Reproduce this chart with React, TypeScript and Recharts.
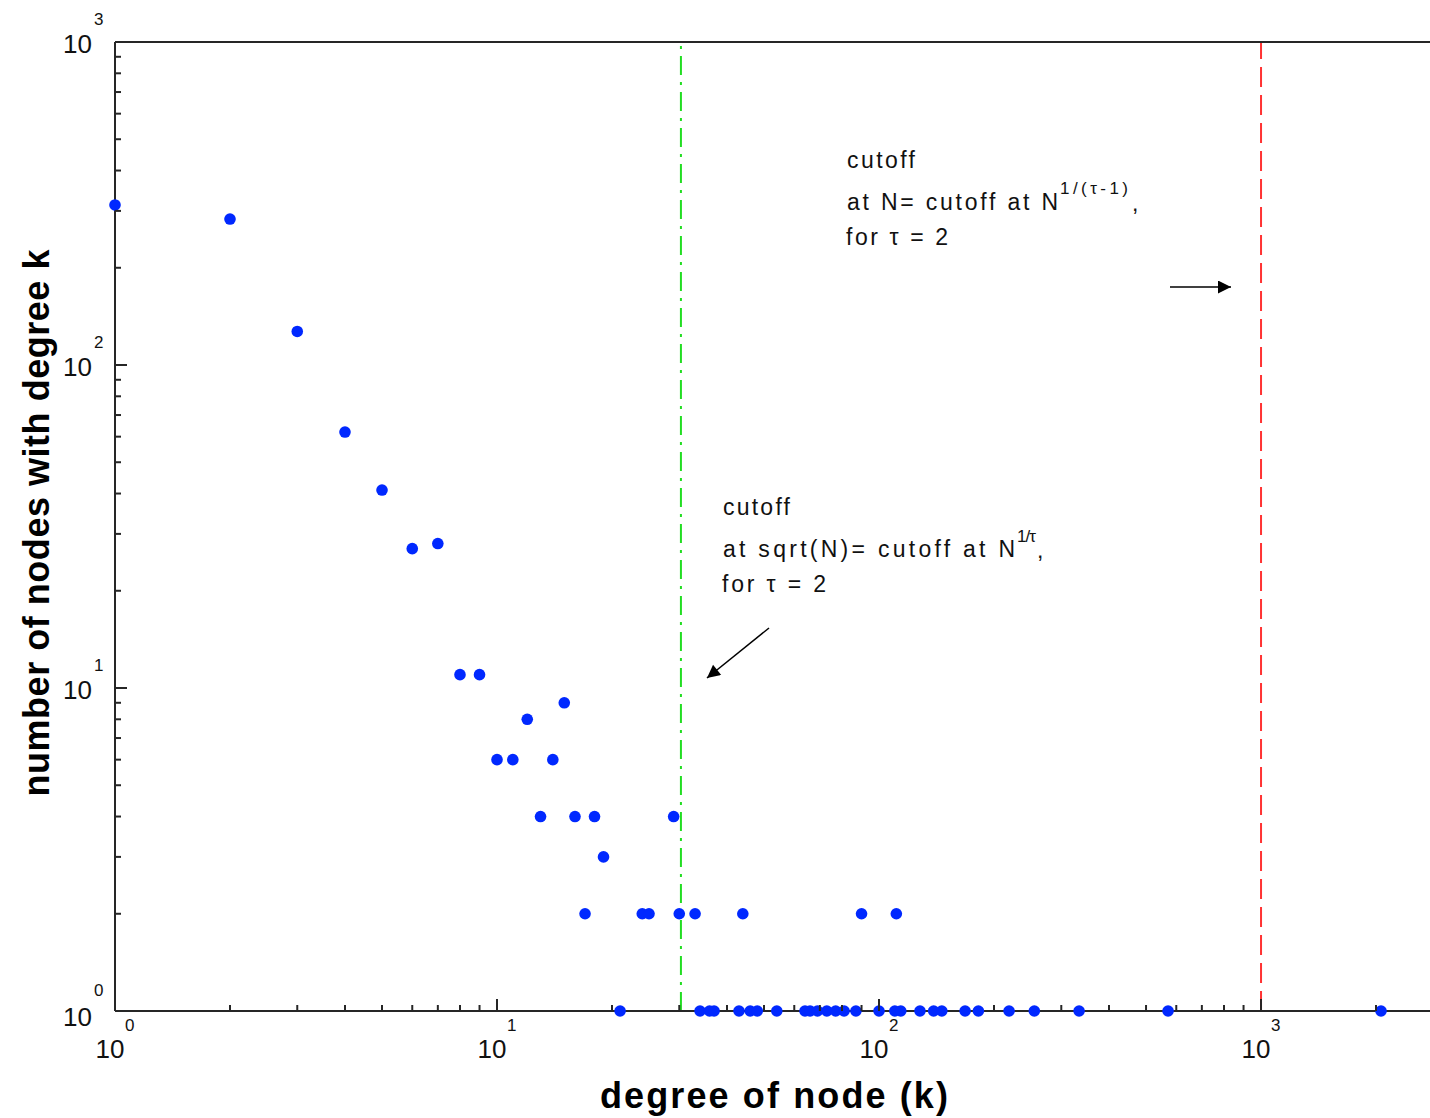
import React from 'react';
import { ScatterChart, Scatter, XAxis, YAxis, ReferenceLine } from 'recharts';

// degree k and number of nodes with that degree
const degrees = [
  1, 2, 3, 4, 5, 6, 7, 8, 9, 10, 11, 12, 13, 14, 15, 16, 17, 18, 19, 21,
  24, 25, 29, 30, 33, 34, 36, 37, 43, 44, 46, 48, 54, 64, 66, 69, 73, 77,
  81, 87, 90, 100, 110, 111, 114, 128, 139, 146, 168, 182, 219, 255, 334,
  571, 2061,
];
const counts = [
  313, 283, 127, 62, 41, 27, 28, 11, 11, 6, 6, 8, 4, 6, 9, 4, 2, 4, 3, 1,
  2, 2, 4, 2, 2, 1, 1, 1, 1, 2, 1, 1, 1, 1, 1, 1, 1, 1,
  1, 1, 2, 1, 1, 2, 1, 1, 1, 1, 1, 1, 1, 1, 1,
  1, 1,
];

const xTicks = [
  1, 2, 3, 4, 5, 6, 7, 8, 9,
  10, 20, 30, 40, 50, 60, 70, 80, 90,
  100, 200, 300, 400, 500, 600, 700, 800, 900,
  1000, 2000,
];
const yTicks = [
  1, 2, 3, 4, 5, 6, 7, 8, 9,
  10, 20, 30, 40, 50, 60, 70, 80, 90,
  100, 200, 300, 400, 500, 600, 700, 800, 900,
  1000,
];
const majorTicks = [1, 10, 100, 1000];

const xDomain = [1, 2769];
const yDomain = [1, 1000];

const sqrtCutoff = 30.3; // cutoff at sqrt(N)
const nCutoff = 1000; // cutoff at N

const points = degrees.map((k, i) => ({ k, n: counts[i] }));

const FONT = '"Liberation Sans", Arial, sans-serif';
const AXIS = '#262626';

const isMajor = (v: number) => majorTicks.includes(v);
const exponent = (v: number) => Math.round(Math.log10(v));

const BottomTick = (props: any) => {
  const { x, y, payload } = props;
  const v = payload.value;
  const major = isMajor(v);
  return (
    <g>
      <line x1={x} y1={y} x2={x} y2={y - (major ? 12 : 6)} stroke={AXIS} strokeWidth={2} />
      {major && (
        <>
          <text x={x - 5} y={y + 47} textAnchor="middle" fontSize={26} fontFamily={FONT} fill="#111">10</text>
          <text x={x + 10} y={y + 20} fontSize={17} fontFamily={FONT} fill="#111">{exponent(v)}</text>
        </>
      )}
    </g>
  );
};

const TopTick = (props: any) => {
  const { x, y, payload } = props;
  const major = isMajor(payload.value);
  return <line x1={x} y1={y} x2={x} y2={y + (major ? 12 : 6)} stroke={AXIS} strokeWidth={2} />;
};

const LeftTick = (props: any) => {
  const { x, y, payload } = props;
  const v = payload.value;
  const major = isMajor(v);
  return (
    <g>
      <line x1={x} y1={y} x2={x + (major ? 12 : 6)} y2={y} stroke={AXIS} strokeWidth={2} />
      {major && (
        <>
          <text x={x - 23} y={y + (v === 1 ? 15 : 11)} textAnchor="end" fontSize={26} fontFamily={FONT} fill="#111">10</text>
          <text x={x - 21} y={y - (v === 1 ? 15 : 17)} fontSize={17} fontFamily={FONT} fill="#111">{exponent(v)}</text>
        </>
      )}
    </g>
  );
};

const Dot = (props: any) => <circle cx={props.cx} cy={props.cy} r={5.8} fill="#0028ff" />;

const txt = { fontFamily: FONT, fontSize: 23, fill: '#111', lengthAdjust: 'spacing' as const };

const App = () => {
  return (
    <div style={{ position: 'absolute', left: 0, top: 0, width: 1430, height: 1118, background: '#fff' }}>
      <ScatterChart width={1430} height={1118} margin={{ top: 0, right: 0, bottom: 0, left: 0 }}>
        <XAxis
          xAxisId="b"
          dataKey="k"
          type="number"
          scale="log"
          domain={xDomain}
          ticks={xTicks}
          interval={0}
          height={107}
          tickSize={0}
          tickMargin={0}
          tickLine={false}
          tick={<BottomTick />}
          axisLine={{ stroke: AXIS, strokeWidth: 2 }}
        />
        <XAxis
          xAxisId="t"
          orientation="top"
          dataKey="k"
          type="number"
          scale="log"
          domain={xDomain}
          ticks={xTicks}
          interval={0}
          height={42}
          tickSize={0}
          tickMargin={0}
          tickLine={false}
          tick={<TopTick />}
          axisLine={{ stroke: AXIS, strokeWidth: 2 }}
        />
        <YAxis
          yAxisId="l"
          dataKey="n"
          type="number"
          scale="log"
          domain={yDomain}
          ticks={yTicks}
          interval={0}
          width={115}
          tickSize={0}
          tickMargin={0}
          tickLine={false}
          tick={<LeftTick />}
          axisLine={{ stroke: AXIS, strokeWidth: 2 }}
        />
        <ReferenceLine xAxisId="b" yAxisId="l" x={sqrtCutoff} stroke="#22dd22" strokeWidth={2} strokeDasharray="19 7 3 7" />
        <ReferenceLine xAxisId="b" yAxisId="l" x={nCutoff} stroke="#ff3333" strokeWidth={2} strokeDasharray="20 8" />
        <Scatter xAxisId="b" yAxisId="l" data={points} shape={<Dot />} isAnimationActive={false} />
      </ScatterChart>

      <svg width={1430} height={1118} style={{ position: 'absolute', left: 0, top: 0, pointerEvents: 'none' }}>
        <defs>
          <marker id="head" viewBox="0 0 10 10" refX="10" refY="5" markerWidth="19" markerHeight="13" markerUnits="userSpaceOnUse" orient="auto">
            <path d="M0,0 L10,5 L0,10 z" fill="#000" />
          </marker>
        </defs>

        <text {...txt} x={847} y={168} textLength={68}>cutoff</text>
        <text {...txt} x={847} y={210} textLength={211}>at N= cutoff at N</text>
        <text {...txt} x={1060} y={194} fontSize={17} textLength={68}>1/(τ-1)</text>
        <text {...txt} x={1132} y={211}>,</text>
        <text {...txt} x={846} y={245} textLength={102}>for τ = 2</text>
        <line x1={1170} y1={287} x2={1231} y2={287} stroke="#000" strokeWidth={1.5} markerEnd="url(#head)" />

        <text {...txt} x={723} y={515} textLength={67}>cutoff</text>
        <text {...txt} x={723} y={557} textLength={292}>at sqrt(N)= cutoff at N</text>
        <text {...txt} x={1017} y={542} fontSize={17} textLength={19}>1/τ</text>
        <text {...txt} x={1037} y={558}>,</text>
        <text {...txt} x={722} y={592} textLength={104}>for τ = 2</text>
        <line x1={769} y1={628} x2={707} y2={678} stroke="#000" strokeWidth={1.5} markerEnd="url(#head)" />

        <text x={774} y={1108} textAnchor="middle" fontFamily={FONT} fontSize={36} fontWeight="bold" fill="#000" textLength={348} lengthAdjust="spacing">
          degree of node (k)
        </text>
        <text
          x={0}
          y={0}
          transform="translate(49,523) rotate(-90)"
          textAnchor="middle"
          fontFamily={FONT}
          fontSize={36}
          fontWeight="bold"
          fill="#000"
          textLength={547}
          lengthAdjust="spacing"
        >
          number of nodes with degree k
        </text>
      </svg>
    </div>
  );
};

export default App;
